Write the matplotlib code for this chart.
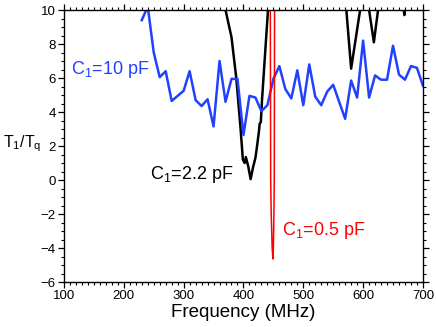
import matplotlib
matplotlib.use('Agg')
import matplotlib.pyplot as plt
from matplotlib.ticker import MultipleLocator

plt.rcParams['font.family'] = ['Liberation Sans', 'DejaVu Sans']
plt.rcParams['mathtext.fontset'] = 'custom'
plt.rcParams['mathtext.rm'] = 'Liberation Sans'

# C1 = 10 pF (blue)
freq_10 = [230, 240, 250, 260, 270, 280, 290, 300, 310, 320, 330, 340, 350, 360,
           370, 380, 390, 400, 410, 420, 430, 440, 450, 460, 470, 480, 490, 500,
           510, 520, 530, 540, 550, 560, 570, 580, 590, 600, 610, 620, 630, 640,
           650, 660, 670, 680, 690, 700]
ratio_10 = [9.4, 10.2, 7.5, 6.05, 6.4, 4.65, 4.95, 5.25, 6.4, 4.7, 4.35, 4.75, 3.15, 7.0,
            4.6, 5.95, 5.95, 2.65, 4.95, 4.85, 4.05, 4.4, 5.95, 6.7, 5.35, 4.8, 6.45, 4.4,
            6.8, 4.9, 4.4, 5.2, 5.6, 4.6, 3.6, 5.85, 4.85, 8.2, 4.85, 6.15, 5.9, 5.9,
            7.9, 6.2, 5.9, 6.7, 6.6, 5.55]

# C1 = 2.2 pF (black), values above 10 run off the top of the plot
freq_22 = [360, 370, 380, 388, 395, 399, 402, 404, 408, 412, 416, 420, 422, 426,
           427, 429, 431, 441, 450, 565, 572, 580, 595, 602, 610, 618, 625, 632,
           665, 668, 669, 670, 673]
ratio_22 = [20, 10, 8.4, 6.0, 3.1, 1.2, 1.0, 1.35, 0.8, 0.05, 0.75, 1.3, 1.8, 2.9,
            3.3, 3.4, 4.7, 10, 20, 20, 10, 6.55, 10, 14, 10, 8.1, 10, 14,
            14, 10, 9.7, 10, 14]

# C1 = 0.5 pF (red)
freq_05 = [444.6, 444.9, 445.5, 446.4, 448.0, 449.3, 450.0, 450.9, 451.5, 452.0, 452.3]
ratio_05 = [14, 10, 0, -2, -4, -4.65, -4, -2, 0, 10, 14]

fig = plt.figure(figsize=(4.36, 3.27), dpi=100)
ax = fig.add_axes([0.1468, 0.1376, 0.8232, 0.8318])

ax.plot(freq_22, ratio_22, color='black', lw=1.8)
ax.plot(freq_10, ratio_10, color='#2141ff', lw=1.8)
ax.plot(freq_05, ratio_05, color='#ff0000', lw=1.1)

ax.set_xlim(100, 700)
ax.set_ylim(-6, 10)
ax.xaxis.set_major_locator(MultipleLocator(100))
ax.xaxis.set_minor_locator(MultipleLocator(10))
ax.yaxis.set_major_locator(MultipleLocator(2))
ax.yaxis.set_minor_locator(MultipleLocator(0.5))
ax.tick_params(which='both', direction='out', top=True, right=True, labelsize=9.5, pad=2)
ax.tick_params(which='major', length=4, width=0.9)
ax.tick_params(which='minor', length=2.2, width=0.8)
for s in ax.spines.values():
    s.set_linewidth(1.0)

ax.set_xlabel('Frequency (MHz)', fontsize=13.5, labelpad=1)
ax.set_ylabel('T$_\\mathregular{1}$/T$_\\mathregular{q}$', fontsize=11.5, rotation=0)
ax.yaxis.set_label_coords(-0.117, 0.47)

ax.text(111, 6.5, 'C$_\\mathregular{1}$=10 pF', color='#2141ff', fontsize=13, va='center')
ax.text(244, 0.3, 'C$_\\mathregular{1}$=2.2 pF', color='black', fontsize=13, va='center')
ax.text(465, -2.95, 'C$_\\mathregular{1}$=0.5 pF', color='#ff0000', fontsize=13, va='center')

fig.savefig('out.png', dpi=100)
